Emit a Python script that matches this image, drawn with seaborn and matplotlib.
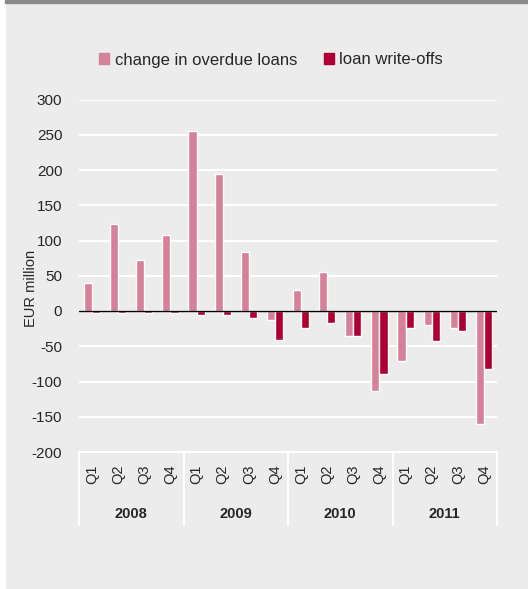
import seaborn as sns
import numpy as np
import pandas as pd
import matplotlib.pyplot as plt
from matplotlib.patches import Rectangle, Patch

years = ["2008", "2009", "2010", "2011"]
quarters = ["Q1", "Q2", "Q3", "Q4"]
overdue = [40, 123, 72, 108, 255, 194, 83, -13, 30, 55, -35, -114, -71, -20, -24, -160]
writeoffs = [-3, -3, -3, -3, -6, -6, -10, -41, -24, -17, -35, -89, -24, -43, -28, -82]
series = ["change in overdue loans", "loan write-offs"]
colors = ["#d6819a", "#ae0034"]

periods = [y + q for y in years for q in quarters]
df = pd.DataFrame({
    "period": periods * 2,
    "value": overdue + writeoffs,
    "series": [series[0]] * len(periods) + [series[1]] * len(periods),
})

sns.set_style("white")
plt.rcParams["font.family"] = ["Liberation Sans", "DejaVu Sans"]
plt.rcParams["axes.unicode_minus"] = False
bg = "#ebeceb"

fig = plt.figure(figsize=(5.28, 5.89), dpi=100)
fig.patch.set_facecolor(bg)
# frame: white strip left, grey bar top
fig.patches.append(Rectangle((0, 0), 5 / 528, 1, transform=fig.transFigure, color="white", zorder=0))
fig.patches.append(Rectangle((5 / 528, 1 - 3 / 589), 1, 3 / 589, transform=fig.transFigure, color="#8a8a8a", zorder=0))

ax = fig.add_axes([79 / 528, 1 - 452 / 589, 418 / 528, 352.5 / 589])
ax.set_facecolor(bg)
sns.barplot(data=df, x="period", y="value", hue="series", palette=colors,
            width=0.62, dodge=True, ax=ax, legend=False, saturation=1, zorder=3)

ax.set_ylim(-200, 300)
ax.set_xlim(-0.5, len(periods) - 0.5)
ax.set_yticks(np.arange(-200, 301, 50))
ax.yaxis.grid(True, color="white", lw=1.5, zorder=0)
ax.set_axisbelow(True)
ax.axhline(0, color="black", lw=1, zorder=4)
for s in ["top", "right", "left"]:
    ax.spines[s].set_visible(False)
ax.spines["bottom"].set_color("white")
ax.spines["bottom"].set_linewidth(1.5)

ax.set_xticks(range(len(periods)))
ax.set_xticklabels(quarters * len(years), rotation=90, fontsize=10.5)
ax.tick_params(axis="x", length=0, pad=9)
ax.tick_params(axis="y", length=0, pad=12, labelsize=11)
ax.set_xlabel("")
ax.set_ylabel("EUR million", fontsize=10.5)
ax.yaxis.set_label_coords(-0.098, 0.465)

trans = ax.get_xaxis_transform()
for i in range(len(years) + 1):
    ax.plot([i * 4 - 0.5] * 2, [0, -0.207], color="white", lw=1.5, transform=trans, clip_on=False)
for i, y in enumerate(years):
    ax.text(i * 4 + 1.5, -0.176, y, transform=trans, ha="center", va="center",
            fontsize=10.5, fontweight="bold")

handles = [Patch(color=c, label=l) for c, l in zip(colors, series)]
fig.legend(handles=handles, loc="center", bbox_to_anchor=(271 / 528, 1 - 60 / 589),
           ncol=2, frameon=False, fontsize=12, handlelength=0.6, handleheight=0.6,
           handletextpad=0.35, columnspacing=1.6)

fig.savefig("out.png", dpi=100, facecolor=fig.get_facecolor())
